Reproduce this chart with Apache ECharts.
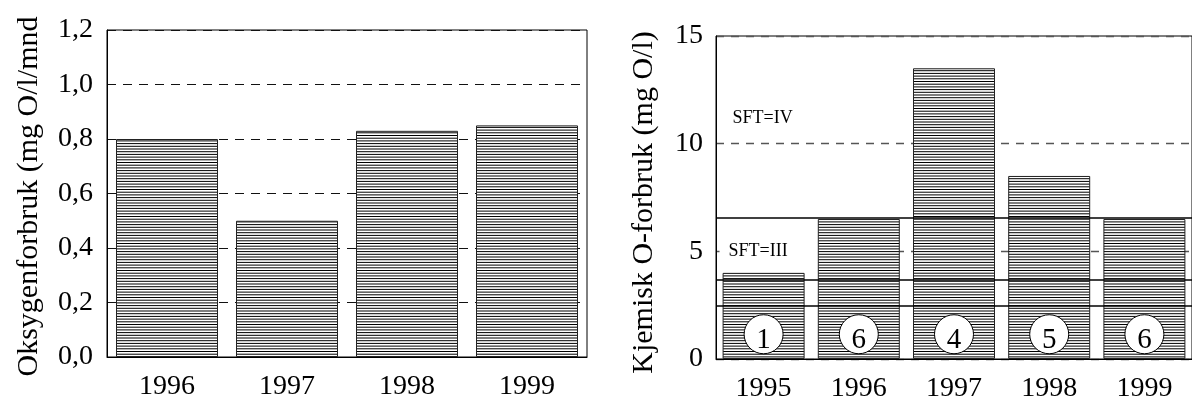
<!DOCTYPE html>
<html>
<head>
<meta charset="utf-8">
<script src="https://cdn.jsdelivr.net/npm/echarts@6/dist/echarts.min.js"></script>
<style>
html,body{margin:0;padding:0;background:#fff;overflow:hidden;}
#c{width:1192px;height:403px;}
</style>
</head>
<body>
<div id="c"></div>
<script>
// ---- data ----
const leftCategories = ['1996', '1997', '1998', '1999'];
const leftValues = [0.80, 0.50, 0.83, 0.85];
const leftAxisName = 'Oksygenforbruk (mg O/l/mnd';

const rightCategories = ['1995', '1996', '1997', '1998', '1999'];
const rightValues = [4.0, 6.5, 13.5, 8.5, 6.5];
const classNumbers = ['1', '6', '4', '5', '6'];
const circleLevel = 1.15;
const limitLines = [6.55, 3.7, 2.48];
const sftTexts = ['SFT=IV', 'SFT=III'];
const sftLevels = [11.16, 5.0];
const rightAxisName = 'Kjemisk O-forbruk (mg O/l)';

// ---- styling helpers ----
const FONT = 'Liberation Serif, Times New Roman, serif';

function hatchPattern() {
  const c = document.createElement('canvas');
  c.width = 4; c.height = 27;
  const g = c.getContext('2d');
  g.fillStyle = '#fff';
  g.fillRect(0, 0, 4, 27);
  g.fillStyle = '#000';
  for (let i = 0; i < 10; i++) g.fillRect(0, i * 2.7, 4, 1);
  return c;
}
const hatch = { image: hatchPattern(), repeat: 'repeat' };

const chart = echarts.init(document.getElementById('c'), null, { renderer: 'canvas' });

const catAxis = (gi, data) => ({
  gridIndex: gi, type: 'category', data: data,
  axisTick: { show: false },
  axisLine: { show: true, lineStyle: { color: '#000', width: 1 } },
  axisLabel: { fontFamily: FONT, fontSize: 28, color: '#000', margin: 16 }
});

const option = {
  animation: false,
  backgroundColor: '#fff',
  grid: [
    { left: 107, top: 30, width: 480, height: 327, show: true, borderColor: '#000', borderWidth: 1, containLabel: false },
    { left: 716, top: 36, width: 485, height: 323, show: true, borderColor: '#000', borderWidth: 1, containLabel: false }
  ],
  xAxis: [catAxis(0, leftCategories), catAxis(1, rightCategories)],
  yAxis: [
    {
      gridIndex: 0, type: 'value', min: 0, max: 1.2, interval: 0.2,
      name: leftAxisName, nameLocation: 'middle', nameGap: 63,
      nameTextStyle: { fontFamily: FONT, fontSize: 30, color: '#000', padding: [0, 6, 0, 0] },
      axisLine: { show: true, lineStyle: { color: '#000', width: 1 } },
      axisTick: { show: false },
      axisLabel: { fontFamily: FONT, fontSize: 28, color: '#000', margin: 14,
        formatter: v => v.toFixed(1).replace('.', ',') },
      splitLine: { show: true, lineStyle: { color: '#111', width: 1.1, type: [9, 7] } }
    },
    {
      gridIndex: 1, type: 'value', min: 0, max: 15, interval: 5,
      name: rightAxisName, nameLocation: 'middle', nameGap: 57,
      nameTextStyle: { fontFamily: FONT, fontSize: 30, color: '#000', padding: [0, 10, 0, 0] },
      axisLine: { show: true, lineStyle: { color: '#000', width: 1 } },
      axisTick: { show: false },
      axisLabel: { fontFamily: FONT, fontSize: 28, color: '#000', margin: 13 },
      splitLine: { show: true, lineStyle: { color: '#555', width: 1.3, type: [8, 7] } }
    }
  ],
  series: [
    {
      type: 'bar', xAxisIndex: 0, yAxisIndex: 0, data: leftValues, barWidth: 102,
      itemStyle: { color: hatch, borderColor: '#222', borderWidth: 1 }
    },
    {
      type: 'bar', xAxisIndex: 1, yAxisIndex: 1, data: rightValues, barWidth: 82,
      itemStyle: { color: hatch, borderColor: '#222', borderWidth: 1 },
      markLine: {
        silent: true, symbol: ['none', 'none'],
        label: { show: false },
        lineStyle: { color: '#000', width: 1.6, type: 'solid' },
        data: limitLines.map(v => ({ yAxis: v }))
      },
      markPoint: {
        silent: true,
        symbol: 'circle', symbolSize: 1,
        itemStyle: { color: 'rgba(0,0,0,0)' },
        data: [
          { coord: [0, sftLevels[0]], value: sftTexts[0],
            label: { show: true, position: 'inside', formatter: sftTexts[0], fontFamily: FONT, fontSize: 18, color: '#000', offset: [-1, 0] } },
          { coord: [0, sftLevels[1]], value: sftTexts[1],
            label: { show: true, position: 'inside', formatter: sftTexts[1], fontFamily: FONT, fontSize: 18, color: '#000',
              backgroundColor: '#fff', padding: [3, 29, 3, 9], offset: [4.5, 0] } }
        ]
      }
    },
    {
      type: 'scatter', xAxisIndex: 1, yAxisIndex: 1, z: 5,
      data: classNumbers.map((n, i) => [i, circleLevel]),
      symbol: 'circle', symbolSize: 39,
      itemStyle: { color: '#fff', borderColor: '#000', borderWidth: 1, opacity: 1 },
      label: { show: true, position: 'inside', fontFamily: FONT, fontSize: 29, color: '#000', offset: [0, 6],
        formatter: p => classNumbers[p.dataIndex] }
    }
  ]
};
chart.setOption(option);
</script>
</body>
</html>
